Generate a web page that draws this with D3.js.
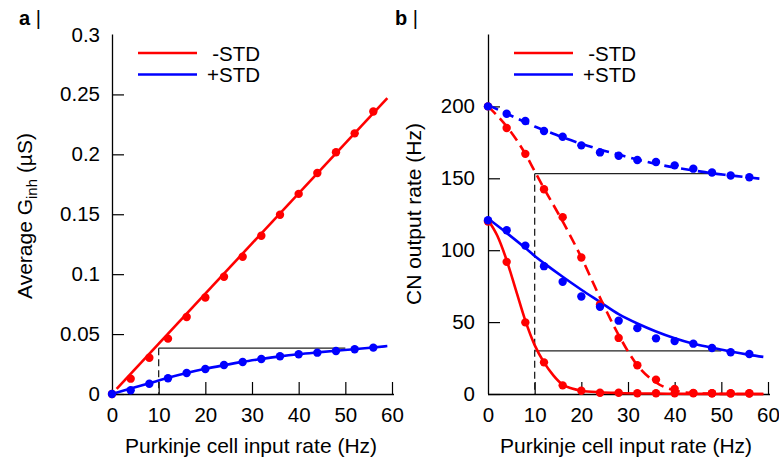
<!DOCTYPE html>
<html><head><meta charset="utf-8">
<script src="https://cdn.jsdelivr.net/npm/d3@7"></script>
<style>body{margin:0;background:#fff}svg{font-family:"Liberation Sans",Arial,sans-serif}</style>
</head><body><svg id="c" width="779" height="464"></svg>
<script>
// ---------- data ----------
const inputRate = [0,4,8,12,16,20,24,28,32,36,40,44,48,52,56];
// panel a: average G_inh (uS)
const gMinusPts = [0,0.0128,0.0303,0.0462,0.0643,0.0805,0.0978,0.1145,0.132,0.1496,0.167,0.1844,0.2017,0.2175,0.2357];
const gPlusPts  = [0,0.0031,0.0086,0.0131,0.0175,0.0209,0.0242,0.0267,0.0292,0.0315,0.0332,0.0345,0.0359,0.0373,0.0387];
const gMinusFitX = [1,59];
const gMinusFitY = [0.0042,0.247];
const gPlusFitX = [0,4,8,12,16,20,24,28,32,36,40,44,48,52,56,59];
const gPlusFitY = [0,0.0045,0.009,0.0135,0.0175,0.021,0.024,0.0268,0.0292,0.0314,0.0332,0.0347,0.0361,0.0374,0.0388,0.040];
// panel b: CN output rate (Hz)
const cnMinusHighPts = [200,185,167,142.4,123,94.9,62.3,39,20,10,3.5,0.8,0.5,0.4,0.3];
const cnPlusHighPts  = [200,194.9,189.8,182.9,178.9,172.9,168,165.7,162.7,161.3,159,156.7,154,151.9,150.7];
const cnMinusLowPts  = [120,91.9,49.8,22,6,2.3,0.9,0.9,0.5,0.5,0.5,0.5,0.5,0.5,0.5];
const cnPlusLowPts   = [120.8,113.9,103.2,88.9,78,67.8,60.6,51,45.8,38.7,36.8,35,32,29,27.8];
const fitX = [0,4,8,10,12,16,20,24,28,32,36,40,44,48,52,56,59];
const cnMinusHighFit = [200,186,167,155,143,120,95,67,41,20,8,2.5,0.6,0.2,0,0,0];
const cnPlusHighFit  = [201,195,189,186,183.5,178.5,174,170,166.5,163,160,157.5,155.5,153.5,152,150.5,149.5];
const cnMinusLowFitX = [0,2,4,6,8,10,12,14,16,18,20,24,28,36,44,59];
const cnMinusLowFit  = [121,110,93,72,51,34,22,13,6.5,3.8,2.3,1.2,0.7,0.3,0.1,0];
const cnPlusLowFit   = [122,112,101.5,96,91,81.5,72.5,64,55.5,49,43.5,38.8,35,32.2,29.5,27.2,25.8];
// reference lines
const refA = {x:[10,50], y:0.0382};
const refB = [{x:[10,50], y:153.2},{x:[10,50], y:30}];
// axes
const xTicks = [0,10,20,30,40,50,60];
const aTicks = [0,0.05,0.1,0.15,0.2,0.25,0.3];
const aTickLabels = ["0","0.05","0.1","0.15","0.2","0.25","0.3"];
const bTicks = [0,50,100,150,200];
const legendLabels = ["-STD","+STD"];
const colors = ["#ff0000","#0000ff"];

// ---------- drawing ----------
const svg = d3.select("#c");
const FS = 21;   // axis labels
const TS = 20.5; // ticks, legend

function panel(cfg){
  const g = svg.append("g");
  const x = d3.scaleLinear().domain([0,60]).range(cfg.xr);
  const y = d3.scaleLinear().domain(cfg.yd).range([394,34.5]);
  const ya = d3.axisLeft(y).tickValues(cfg.yt).tickSizeInner(-12).tickSizeOuter(0).tickPadding(cfg.ypad)
    .tickFormat((d,i)=>cfg.ytl ? cfg.ytl[i] : d);
  const yg = g.append("g").attr("transform",`translate(${cfg.xr[0]},0)`).call(ya);
  const xa = d3.axisBottom(x).tickValues(xTicks).tickSizeInner(-12).tickSizeOuter(0).tickPadding(13);
  const xg = g.append("g").attr("transform","translate(0,394)").call(xa);
  [yg,xg].forEach(a=>{
    a.selectAll("text").attr("font-size",TS).attr("font-family","Liberation Sans, Arial, sans-serif").attr("fill","#000");
    a.selectAll("line").attr("stroke","#000").attr("stroke-width",1.2);
    a.select(".domain").attr("stroke","#000").attr("stroke-width",1.3);
  });
  yg.selectAll(".tick").filter(d=>d===cfg.yd[1]).select("line").remove();
  yg.select(".domain").attr("d",`M0.5,${y(cfg.yd[1])}V394`);
  xg.select(".domain").attr("d",`M0,0.5H${cfg.xr[1]-cfg.xr[0]+2}`).attr("transform",`translate(${cfg.xr[0]},0)`);
  xg.selectAll(".tick").filter(d=>d===0).select("line").remove();
  cfg.refs.forEach(r=>{
    g.append("line").attr("x1",x(r.x[0])).attr("x2",x(r.x[1])).attr("y1",y(r.y)).attr("y2",y(r.y))
      .attr("stroke","#222").attr("stroke-width",1.3);
  });
  const topRef = d3.max(cfg.refs,r=>r.y);
  g.append("line").attr("x1",x(10)).attr("x2",x(10)).attr("y1",y(topRef)).attr("y2",394)
    .attr("stroke","#222").attr("stroke-width",1.3).attr("stroke-dasharray","7,4");
  const line = d3.line().x(d=>x(d[0])).y(d=>y(d[1])).curve(d3.curveMonotoneX);
  cfg.curves.forEach(c=>{
    g.append("path").datum(c.xs.map((v,i)=>[v,c.ys[i]])).attr("d",line).attr("fill","none")
      .attr("stroke",c.color).attr("stroke-width",2.6).attr("stroke-dasharray",c.dash||null);
  });
  cfg.points.forEach(p=>{
    g.append("g").selectAll("circle").data(inputRate.map((v,i)=>[v,p.ys[i]])).join("circle")
      .attr("cx",d=>x(d[0])).attr("cy",d=>y(d[1])).attr("r",4.2).attr("fill",p.color);
  });
  legendLabels.forEach((t,i)=>{
    const ly = 53 + i*21.5;
    g.append("line").attr("x1",cfg.lx).attr("x2",cfg.lx+59).attr("y1",ly).attr("y2",ly)
      .attr("stroke",colors[i]).attr("stroke-width",2.6);
    g.append("text").attr("x",cfg.lx+122).attr("y",ly+7.5).attr("text-anchor","end").attr("font-size",TS).text(t);
  });
  g.append("text").attr("x",(cfg.xr[0]+cfg.xr[1])/2+(cfg.xlo||0)).attr("y",453).attr("text-anchor","middle")
    .attr("font-size",FS).text("Purkinje cell input rate (Hz)");
  const t = g.append("text").attr("x",cfg.letterX).attr("y",25).attr("font-size",20);
  t.append("tspan").attr("font-weight","bold").text(cfg.letter);
  t.append("tspan").text(" |");
  return {g,x,y};
}

const A = panel({
  xr:[112,392], yd:[0,0.3], yt:aTicks, ytl:aTickLabels, ypad:12, lx:138, xlo:-1, letter:"a", letterX:19,
  refs:[refA],
  curves:[
    {xs:gMinusFitX, ys:gMinusFitY, color:colors[0]},
    {xs:gPlusFitX, ys:gPlusFitY, color:colors[1]}
  ],
  points:[{ys:gMinusPts,color:colors[0]},{ys:gPlusPts,color:colors[1]}]
});
const yl = A.g.append("text").attr("transform","translate(32,216) rotate(-90)").attr("text-anchor","middle").attr("font-size",FS);
yl.append("tspan").text("Average G");
yl.append("tspan").attr("font-size",15).attr("dy",5).text("inh");
yl.append("tspan").attr("dy",-5).text(" (µS)");

const B = panel({
  xr:[488,768], yd:[0,250], yt:bTicks, ypad:13, lx:514, xlo:-2, letter:"b", letterX:395,
  refs:refB,
  curves:[
    {xs:fitX, ys:cnMinusHighFit, color:colors[0], dash:"11,6"},
    {xs:fitX, ys:cnPlusHighFit, color:colors[1], dash:"11,6"},
    {xs:cnMinusLowFitX, ys:cnMinusLowFit, color:colors[0]},
    {xs:fitX, ys:cnPlusLowFit, color:colors[1]}
  ],
  points:[{ys:cnMinusHighPts,color:colors[0]},{ys:cnMinusLowPts,color:colors[0]},
          {ys:cnPlusHighPts,color:colors[1]},{ys:cnPlusLowPts,color:colors[1]}]
});
B.g.append("text").attr("transform","translate(421,214) rotate(-90)").attr("text-anchor","middle").attr("font-size",FS)
  .text("CN output rate (Hz)");
</script></body></html>
